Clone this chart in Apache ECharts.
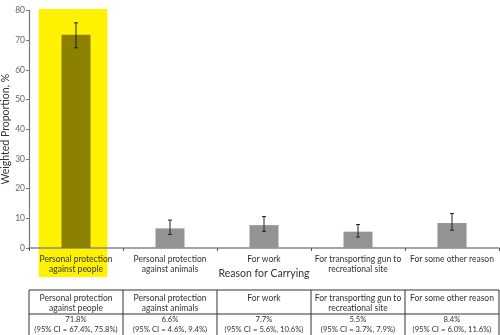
<!DOCTYPE html>
<html><head><meta charset="utf-8">
<script src="https://cdn.jsdelivr.net/npm/echarts@6/dist/echarts.min.js"></script>
<style>html,body{margin:0;padding:0;background:#fff}#c{width:500px;height:335px}</style>
</head><body><div id="c"></div>
<script>
var categories = ['Personal protection\nagainst people','Personal protection\nagainst animals','For work','For transporting gun to\nrecreational site','For some other reason'];
var values = [71.8, 6.6, 7.7, 5.5, 8.4];
var ciLow = [67.4, 4.6, 5.6, 3.7, 6.0];
var ciHigh = [75.8, 9.4, 10.6, 7.9, 11.6];
var yTicks = [0,10,20,30,40,50,60,70,80];
var highlightIndex = 0;

var FONT = 'Lato, "Open Sans", sans-serif';
var chart = echarts.init(document.getElementById('c'), null, {renderer:'canvas'});

var option = {
  animation:false,
  textStyle:{fontFamily:FONT},
  grid:{left:29, right:1, top:10.4, bottom:87, containLabel:false, outerBoundsMode:'none'},
  xAxis:{
    type:'category', data:categories,
    name:'Reason for Carrying', nameLocation:'middle', nameGap:20, nameMoveOverlap:false,
    nameTextStyle:{fontSize:10.5, color:'#333', fontFamily:FONT},
    axisLine:{lineStyle:{color:'#888', width:1.5}},
    axisTick:{show:true, interval:0, length:3, lineStyle:{color:'#555'}},
    axisLabel:{interval:0, margin:7, fontSize:8.5, lineHeight:9.5, color:'#333', fontFamily:FONT}
  },
  yAxis:{
    type:'value', min:0, max:80, interval:10,
    name:'Weighted Proportion, %', nameLocation:'middle', nameGap:18, nameMoveOverlap:false,
    nameTextStyle:{fontSize:10.5, color:'#333', fontFamily:FONT},
    axisLine:{show:true, lineStyle:{color:'#777', width:1.2}},
    axisTick:{show:true, length:3, lineStyle:{color:'#777'}},
    axisLabel:{fontSize:8.5, color:'#666', margin:4, fontFamily:FONT},
    splitLine:{show:false}
  },
  series:[
    {type:'bar', data:values.map(function(v,i){return {value:v, itemStyle:{color: i===highlightIndex ? '#8c8000' : '#939393'}};}),
     barWidth:29, z:3},
    {type:'custom', z:4,
     data: values.map(function(v,i){return [i, ciLow[i], ciHigh[i]];}),
     renderItem:function(params, api){
       var lo = api.coord([api.value(0), api.value(1)]);
       var hi = api.coord([api.value(0), api.value(2)]);
       var w = 2;
       var st = {stroke:'#222', lineWidth:1};
       return {type:'group', children:[
         {type:'line', shape:{x1:lo[0], y1:lo[1], x2:hi[0], y2:hi[1]}, style:st},
         {type:'line', shape:{x1:lo[0]-w, y1:lo[1], x2:lo[0]+w, y2:lo[1]}, style:st},
         {type:'line', shape:{x1:hi[0]-w, y1:hi[1], x2:hi[0]+w, y2:hi[1]}, style:st}
       ]};
     }}
  ]
};
chart.setOption(option);

// decorations: highlight box and table, positioned from the axis scale
var centers = categories.map(function(c,i){return chart.convertToPixel({xAxisIndex:0}, i);});
var step = centers[1]-centers[0];
var yTop = chart.convertToPixel({yAxisIndex:0}, 80);
var y0 = chart.convertToPixel({yAxisIndex:0}, 0);
var g = [];
var hc = centers[highlightIndex];
g.push({type:'rect', shape:{x:hc-37.3, y:yTop-1.5, width:68.7, height:(y0+29)-(yTop-1.5)}, style:{fill:'#fff200'}, z:-1, zlevel:0});

var tTop = y0+42, tMid = y0+66, tBot = 340;
var left = centers[0]-step/2, right = centers[centers.length-1]+step/2;
var line = {stroke:'#333', lineWidth:1};
g.push({type:'line', shape:{x1:left, y1:tTop, x2:right, y2:tTop}, style:line});
g.push({type:'line', shape:{x1:left, y1:tMid, x2:right, y2:tMid}, style:line});
for (var i=0;i<=categories.length;i++){
  var x = left + i*step;
  g.push({type:'line', shape:{x1:x, y1:tTop, x2:x, y2:tBot}, style:line});
}
categories.forEach(function(c,i){
  g.push({type:'text', x:centers[i], y:tTop+4, style:{text:c, fontSize:8.5, lineHeight:9.5, fill:'#333', fontFamily:FONT, align:'center', verticalAlign:'top'}});
  g.push({type:'text', x:centers[i], y:tMid+1, style:{text:values[i].toFixed(1)+'%\n(95% CI = '+ciLow[i].toFixed(1)+'%, '+ciHigh[i].toFixed(1)+'%)', fontSize:7.7, lineHeight:9.5, fill:'#333', fontFamily:FONT, align:'center', verticalAlign:'top'}});
});
chart.setOption({graphic:g});
</script></body></html>
